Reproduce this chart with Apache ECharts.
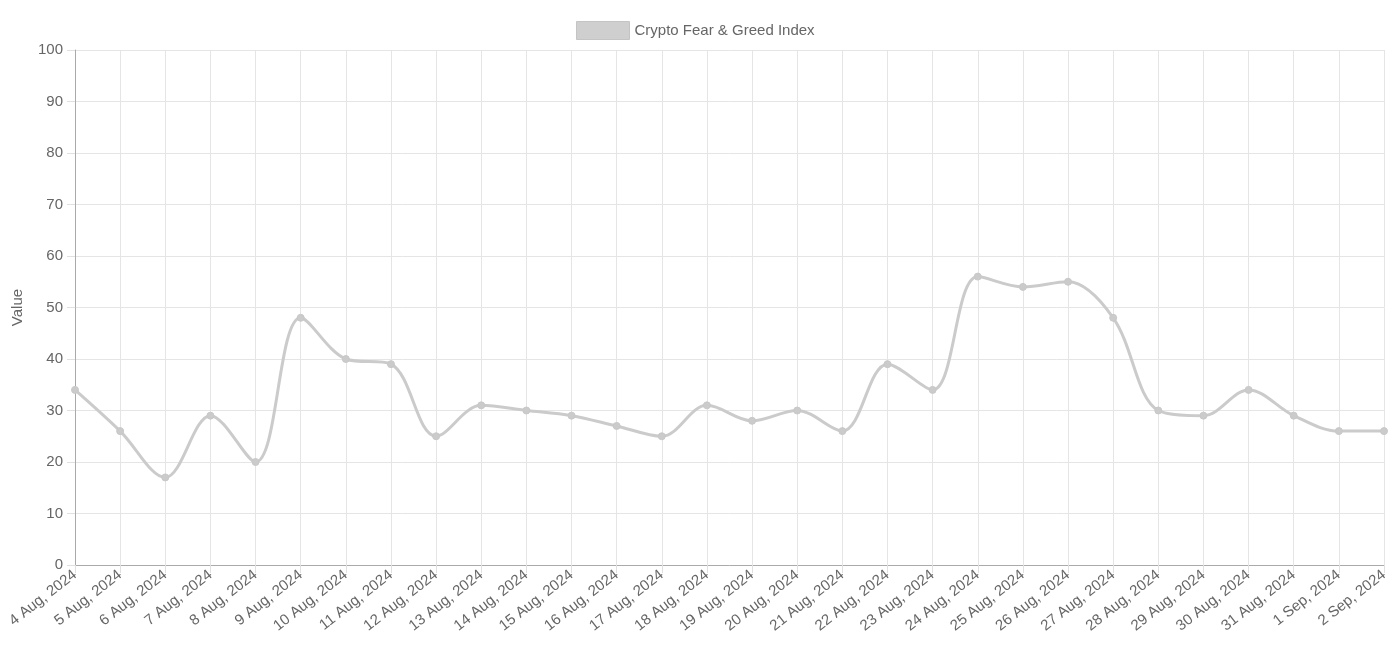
<!DOCTYPE html>
<html><head><meta charset="utf-8">
<script src="https://cdn.jsdelivr.net/npm/echarts@6/dist/echarts.min.js"></script>
<style>html,body{margin:0;padding:0;background:#fff}#c{width:1400px;height:655px}</style>
</head><body><div id="c"></div>
<script>
const categories = ["4 Aug, 2024","5 Aug, 2024","6 Aug, 2024","7 Aug, 2024","8 Aug, 2024","9 Aug, 2024","10 Aug, 2024","11 Aug, 2024","12 Aug, 2024","13 Aug, 2024","14 Aug, 2024","15 Aug, 2024","16 Aug, 2024","17 Aug, 2024","18 Aug, 2024","19 Aug, 2024","20 Aug, 2024","21 Aug, 2024","22 Aug, 2024","23 Aug, 2024","24 Aug, 2024","25 Aug, 2024","26 Aug, 2024","27 Aug, 2024","28 Aug, 2024","29 Aug, 2024","30 Aug, 2024","31 Aug, 2024","1 Sep, 2024","2 Sep, 2024"];
const values = [34,26,17,29,20,48,40,39,25,31,30,29,27,25,31,28,30,26,39,34,56,54,55,48,30,29,34,29,26,26];
const seriesName = "Crypto Fear & Greed Index";
const yName = "Value";

const chart = echarts.init(document.getElementById('c'));
const font = "'Liberation Sans', Arial, Helvetica, sans-serif";
chart.setOption({
  animation: false,
  textStyle: {fontFamily: font},
  legend: {
    top: 16, left: 571,
    itemWidth: 53, itemHeight: 18, itemGap: 10,
    icon: 'rect',
    textStyle: {color: '#666', fontSize: 15, fontFamily: font},
    data: [{name: seriesName, itemStyle: {color: '#cfcfcf', borderColor: '#c4c4c4', borderWidth: 1}}]
  },
  grid: {left: 75, right: 16, top: 50, bottom: 90, containLabel: false},
  xAxis: {
    type: 'category', boundaryGap: false, data: categories,
    axisLine: {show: true, lineStyle: {color: '#aaa', width: 1}},
    axisTick: {show: true, length: 8, lineStyle: {color: '#e0e0e0'}},
    splitLine: {show: true, lineStyle: {color: '#e5e5e5'}},
    axisLabel: {rotate: 38, interval: 0, color: '#666', fontSize: 15, margin: 8, fontFamily: font}
  },
  yAxis: {
    type: 'value', min: 0, max: 100, interval: 10,
    name: yName, nameLocation: 'middle', nameGap: 50, nameRotate: 90,
    nameTextStyle: {color: '#666', fontSize: 15, fontFamily: font},
    axisLine: {show: true, lineStyle: {color: '#aaa', width: 1}},
    axisTick: {show: true, length: 8, lineStyle: {color: '#e0e0e0'}},
    splitLine: {show: true, lineStyle: {color: '#e5e5e5'}},
    axisLabel: {color: '#666', fontSize: 15, margin: 12, fontFamily: font}
  },
  series: [{
    name: seriesName, type: 'line', data: values, smooth: 0.35,
    symbol: 'circle', symbolSize: 7,
    lineStyle: {color: '#cbcbcb', width: 3},
    itemStyle: {color: '#cbcbcb', borderColor: '#c8c8c8'}
  }]
});
</script></body></html>
